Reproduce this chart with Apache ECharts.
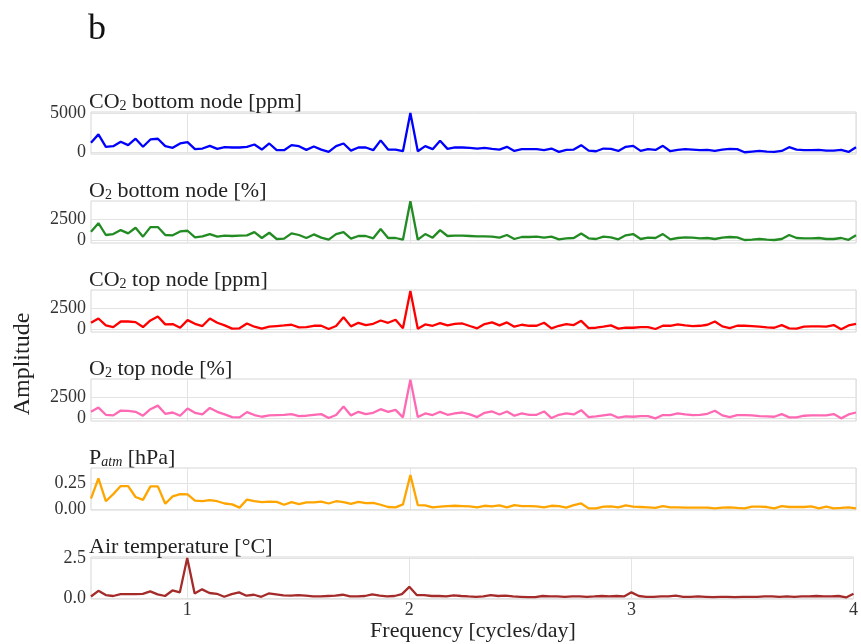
<!DOCTYPE html>
<html>
<head>
<meta charset="utf-8">
<script src="https://cdn.jsdelivr.net/npm/echarts@6/dist/echarts.min.js"></script>
<style>
  html, body { margin: 0; padding: 0; background: #fff; }
  #chart { width: 861px; height: 644px; }
</style>
</head>
<body>
<div id="chart"></div>
<script>
// frequency bins (cycles/day), 30-day record -> step 1/30, bins 17..120
const freq = [];
for (let k = 17; k <= 120; k++) freq.push(k / 30);

const xTicks = [1, 2, 3, 4];

const co2Bottom = [1240, 2300, 730, 810, 1370, 940, 1750, 730, 1660, 1750, 810, 600, 1150, 1320,
  430, 510, 850, 470, 680, 640, 640, 730, 1020, 380, 1150, 300, 300, 940, 810, 340, 770, 380, 85, 810,
  1150, 250, 640, 640, 300, 1540, 380, 380, 170, 5000, 170, 810, 430, 1500, 470, 650,
  640, 600, 510, 600, 470, 380, 730, 210, 430, 430, 430, 300, 510, 85, 340, 380, 940, 250, 170, 510,
  470, 210, 730, 850, 210, 430, 340, 850, 170, 340, 430, 380, 300, 340, 210, 380, 470, 430, 40, 130,
  210, 130, 85, 210, 680, 380, 300, 300, 340, 250, 250, 340, 85, 680];

const o2Bottom = [990, 2020, 600, 710, 1190, 790, 1470, 400, 1550, 1550, 600, 560, 1030, 1110,
  320, 440, 710, 400, 520, 480, 520, 560, 950, 240, 870, 120, 160, 790, 600, 240, 670, 280, 40, 710,
  950, 160, 480, 480, 200, 1310, 240, 240, 40, 4640, 40, 710, 280, 1190, 480, 520,
  520, 480, 440, 440, 400, 280, 600, 120, 360, 360, 400, 280, 400, 80, 200, 240, 790, 200, 120, 400,
  320, 80, 560, 710, 120, 280, 240, 710, 80, 240, 320, 280, 200, 240, 120, 280, 360, 320, 0, 40,
  120, 40, 0, 120, 600, 240, 200, 200, 240, 120, 120, 240, 20, 560];

const co2Top = [770, 1270, 460, 270, 920, 920, 850, 270, 1040, 1500, 580, 620, 190, 1080,
  650, 390, 1270, 770, 460, 80, 120, 690, 310, 80, 310, 390, 460, 540, 230, 270, 420, 420, 40, 390,
  1420, 350, 770, 500, 650, 1040, 770, 1120, 120, 4500, 80, 580, 420, 730, 460, 650,
  690, 390, 120, 620, 810, 460, 810, 310, 540, 420, 420, 770, 120, 420, 620, 500, 1000, 150, 190, 310,
  460, 80, 190, 190, 270, 270, 40, 420, 420, 580, 460, 390, 420, 540, 920, 350, 150, 420, 420, 390,
  310, 230, 190, 500, 120, 80, 310, 350, 350, 310, 500, 0, 460, 650];

const o2Top = [770, 1270, 420, 350, 920, 890, 770, 310, 1080, 1500, 540, 690, 310, 1160,
  650, 460, 1230, 770, 460, 150, 120, 730, 390, 190, 350, 390, 420, 500, 270, 310, 420, 500, 40, 390,
  1390, 350, 770, 500, 650, 1080, 770, 1000, 120, 4540, 150, 580, 390, 770, 420, 580,
  690, 460, 150, 650, 810, 460, 810, 310, 580, 420, 420, 810, 40, 420, 580, 460, 960, 150, 230, 350,
  460, 80, 230, 190, 270, 270, 0, 390, 390, 580, 460, 390, 420, 540, 890, 350, 150, 390, 390, 350,
  270, 230, 190, 500, 120, 120, 310, 350, 350, 350, 500, 0, 460, 690];

const pAtm = [0.103, 0.30, 0.078, 0.147, 0.225, 0.225, 0.119, 0.091, 0.222, 0.222, 0.053, 0.125, 0.147, 0.144,
  0.084, 0.078, 0.088, 0.078, 0.056, 0.047, 0.016, 0.094, 0.078, 0.069, 0.075, 0.072, 0.044, 0.069, 0.05, 0.066,
  0.066, 0.075, 0.056, 0.078, 0.069, 0.053, 0.072, 0.059, 0.063, 0.044, 0.022, 0.019, 0.047, 0.331, 0.041, 0.038,
  0.019, 0.025, 0.031, 0.034,
  0.031, 0.028, 0.019, 0.034, 0.028, 0.038, 0.019, 0.041, 0.031, 0.031, 0.028, 0.019, 0.034, 0.031, 0.016, 0.041,
  0.056, 0.009, 0.009, 0.025, 0.028, 0.019, 0.038, 0.025, 0.022, 0.019, 0.013, 0.031, 0.019, 0.019, 0.016, 0.016,
  0.016, 0.016, 0.009, 0.016, 0.019, 0.013, 0.009, 0.025, 0.025, 0.022, 0.009, 0.031, 0.022, 0.022, 0.022, 0.028,
  0.009, 0.025, 0.009, 0.013, 0.019, 0.009];

const airTemp = [0.1, 0.46, 0.19, 0.13, 0.25, 0.25, 0.25, 0.27, 0.42, 0.23, 0.13, 0.48, 0.36, 2.54,
  0.29, 0.55, 0.32, 0.27, 0.08, 0.25, 0.36, 0.15, 0.21, 0.08, 0.29, 0.23, 0.17, 0.15, 0.19, 0.15, 0.1, 0.1,
  0.13, 0.15, 0.21, 0.1, 0.1, 0.13, 0.23, 0.15, 0.1, 0.13, 0.25, 0.71, 0.19, 0.19, 0.13, 0.13, 0.1, 0.17,
  0.13, 0.1, 0.08, 0.1, 0.19, 0.13, 0.15, 0.1, 0.08, 0.06, 0.06, 0.13, 0.1, 0.1, 0.08, 0.1, 0.1, 0.08,
  0.1, 0.13, 0.1, 0.13, 0.1, 0.36, 0.13, 0.08, 0.08, 0.1, 0.1, 0.15, 0.08, 0.08, 0.1, 0.08, 0.06, 0.08,
  0.08, 0.06, 0.08, 0.08, 0.08, 0.1, 0.1, 0.08, 0.1, 0.08, 0.1, 0.1, 0.13, 0.1, 0.1, 0.13, 0.04, 0.27];

const panelTitles = [
  '{a|CO}{s|2}{a| bottom node [ppm]}',
  '{a|O}{s|2}{a| bottom node [%]}',
  '{a|CO}{s|2}{a| top node [ppm]}',
  '{a|O}{s|2}{a| top node [%]}',
  '{a|P}{si|atm}{a| [hPa]}',
  '{a|Air temperature [°C]}'
];
const yTicks = [[0, 5000], [0, 2500], [0, 2500], [0, 2500], [0, 0.25], [0, 2.5]];
const yDigits = [0, 0, 0, 0, 2, 1];
const yRanges = [[-180, 5130], [-360, 4680], [-310, 4610], [-310, 4630], [-0.007, 0.40], [-0.06, 2.6]];
const seriesData = [co2Bottom, o2Bottom, co2Top, o2Top, pAtm, airTemp];
const colors = ['#0000ff', '#228b22', '#ff0000', '#ff69b4', '#ffa500', '#a52a2a'];

const FONT = "'Liberation Serif', 'Times New Roman', serif";
const gridTops = [112, 201, 290, 379, 468, 557];
const gridH = 42;

const chart = echarts.init(document.getElementById('chart'));

const grids = [], xAxes = [], yAxes = [], series = [], titles = [];
seriesData.forEach((vals, i) => {
  grids.push({
    left: 91, right: 5, top: gridTops[i], height: gridH,
    show: true, borderColor: '#d6d6d6', borderWidth: 1, containLabel: false
  });
  const last = i === seriesData.length - 1;
  xAxes.push({
    type: 'value', gridIndex: i, min: 17 / 30, max: 4,
    axisLine: { show: false },
    axisTick: { show: false, customValues: xTicks },
    splitLine: { show: true, lineStyle: { color: '#e3e3e3', width: 1 } },
    axisLabel: {
      show: last, customValues: xTicks, margin: 2,
      fontFamily: FONT, fontSize: 18, color: '#333'
    }
  });
  yAxes.push({
    type: 'value', gridIndex: i, min: yRanges[i][0], max: yRanges[i][1],
    axisLine: { show: false },
    axisTick: { show: false, customValues: yTicks[i] },
    splitLine: { show: true, lineStyle: { color: '#e3e3e3', width: 1 } },
    axisLabel: {
      customValues: yTicks[i], margin: 5,
      fontFamily: FONT, fontSize: 18, color: '#333',
      formatter: v => Number(v).toFixed(yDigits[i])
    }
  });
  series.push({
    type: 'line', xAxisIndex: i, yAxisIndex: i,
    data: freq.map((f, j) => [f, vals[j]]),
    showSymbol: false, symbol: 'none', smooth: false,
    lineStyle: { color: colors[i], width: 2.3 },
    itemStyle: { color: colors[i] },
    silent: true, animation: false
  });
  titles.push({
    text: panelTitles[i], left: 89, top: gridTops[i] - 25, padding: 0,
    textStyle: {
      fontWeight: 'normal',
      rich: {
        a: { fontFamily: FONT, fontSize: 22, fontWeight: 'normal', color: '#222', lineHeight: 26, verticalAlign: 'bottom' },
        s: { fontFamily: FONT, fontSize: 14, fontWeight: 'normal', color: '#222', lineHeight: 15, verticalAlign: 'bottom' },
        si: { fontFamily: FONT, fontSize: 14, fontWeight: 'normal', fontStyle: 'italic', color: '#222', lineHeight: 15, verticalAlign: 'bottom' }
      }
    }
  });
});

chart.setOption({
  backgroundColor: '#fff',
  animation: false,
  title: titles,
  grid: grids,
  xAxis: xAxes,
  yAxis: yAxes,
  series: series,
  graphic: [
    { type: 'text', x: 88, y: 30, style: { text: 'b', font: '36px ' + FONT, fill: '#111', align: 'left', verticalAlign: 'middle' } },
    { type: 'text', x: 23, y: 364, rotation: Math.PI / 2, style: { text: 'Amplitude', font: '24px ' + FONT, fill: '#222', align: 'center', verticalAlign: 'middle' } },
    { type: 'text', x: 473, y: 631, style: { text: 'Frequency [cycles/day]', font: '22px ' + FONT, fill: '#222', align: 'center', verticalAlign: 'middle' } }
  ]
});
</script>
</body>
</html>
